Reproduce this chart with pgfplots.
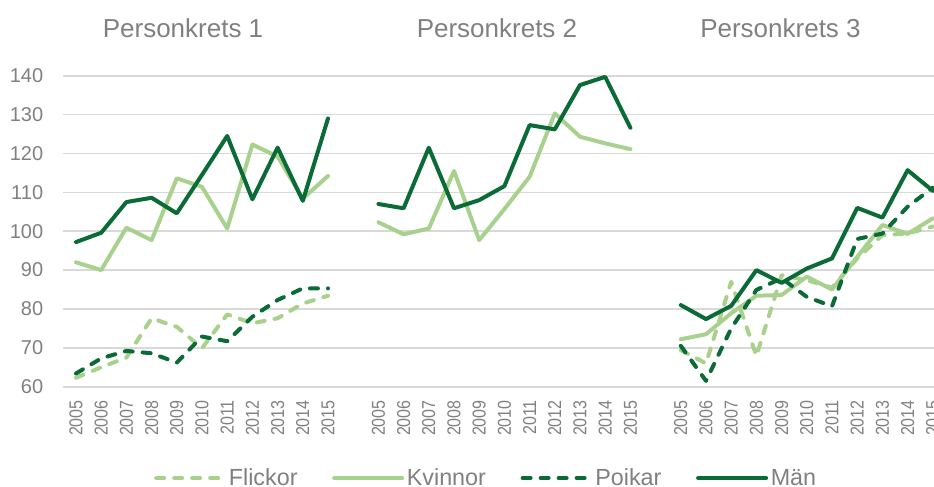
\documentclass[border=0pt]{standalone}
\usepackage{pgfplots}
\usepackage{pgfplotstable}
\pgfplotsset{compat=1.18}
\usepackage{fontspec}
\setmainfont{Liberation Sans}
\definecolor{txt}{HTML}{808080}
\definecolor{gridc}{HTML}{D9D9D9}
\definecolor{dk}{HTML}{0A6B37}
\definecolor{lt}{HTML}{A9D18E}

\pgfplotstableread{
x y
0 62.3
1 65
2 67.5
3 77.6
4 75.4
5 69.9
6 78.6
7 76.3
8 77.6
9 81.4
10 83.4
11 nan
24 69.4
25 66
26 87
27 67.9
28 88.7
29 87.4
30 85.5
31 93
32 99
33 99.4
34 101.2
}\flickor

\pgfplotstableread{
x y
0 92
1 90
2 100.9
3 97.7
4 113.6
5 111.4
6 100.7
7 122.3
8 119.2
9 108.4
10 114.2
11 nan
12 102.3
13 99.2
14 100.7
15 115.5
16 97.7
17 105.7
18 114
19 130.3
20 124.3
21 122.6
22 121.1
23 nan
24 72.2
25 73.5
26 78.9
27 83.4
28 83.6
29 88.3
30 85
31 93.4
32 101.6
33 99.3
34 103.3
}\kvinnor

\pgfplotstableread{
x y
0 63.4
1 67.3
2 69.2
3 68.6
4 66.2
5 72.9
6 71.7
7 78
8 82.3
9 85.3
10 85.3
11 nan
24 70.5
25 61.5
26 75
27 84.9
28 87.9
29 83.1
30 80.7
31 98
32 99.4
33 106.3
34 111.2
}\poikar

\pgfplotstableread{
x y
0 97.2
1 99.6
2 107.5
3 108.6
4 104.6
5 114.5
6 124.5
7 108.2
8 121.5
9 107.8
10 129
11 nan
12 107
13 105.9
14 121.5
15 105.9
16 108
17 111.6
18 127.3
19 126.2
20 137.6
21 139.7
22 126.6
23 nan
24 81
25 77.4
26 80.8
27 90
28 86.7
29 90.4
30 93
31 106
32 103.5
33 115.7
34 110.4
}\maen

\begin{document}
\begin{tikzpicture}
\begin{axis}[
  at={(0pt,0pt)}, anchor=south west,
  scale only axis, width=661.5pt, height=233.25pt,
  xmin=-0.5, xmax=34.5, ymin=60, ymax=140,
  clip=false,
  unbounded coords=jump,
  ytick={60,70,80,90,100,110,120,130,140},
  xtick={0,1,2,3,4,5,6,7,8,9,10,12,13,14,15,16,17,18,19,20,21,22,24,25,26,27,28,29,30,31,32,33,34},
  xticklabels={2005,2006,2007,2008,2009,2010,2011,2012,2013,2014,2015,
               2005,2006,2007,2008,2009,2010,2011,2012,2013,2014,2015,
               2005,2006,2007,2008,2009,2010,2011,2012,2013,2014,2015},
  ymajorgrids,
  grid style={gridc, line width=1.2pt},
  axis line style={draw=none},
  major tick length=0pt,
  /pgf/number format/assume math mode=true,
  tick label style={text=txt},
  yticklabel style={font=\fontsize{15}{18}\selectfont, inner sep=0pt, anchor=east},
  yticklabel shift=15pt,
  xticklabel style={font=\fontsize{14}{16}\selectfont, inner sep=0pt, rotate=90, anchor=east, xscale=0.86},
  xticklabel shift=10pt,
  legend columns=4,
  legend style={at={(0.4797,-0.2936)}, anchor=center, draw=none, fill=none,
    font=\fontsize{17.5}{20}\selectfont, text=txt, inner sep=0pt,
    nodes={inner sep=2pt},
    /tikz/every even column/.append style={column sep=24pt}},
  legend cell align=left,
  legend image code/.code={\draw[#1] (0pt,0pt) -- (51pt,0pt);},
  every axis plot/.append style={line width=3pt, line join=round, line cap=round},
]
\addplot[lt, dash pattern=on 6pt off 7.5pt] table {\flickor};
\addlegendentry{Flickor}
\addplot[lt] table {\kvinnor};
\addlegendentry{Kvinnor}
\addplot[dk, dash pattern=on 6pt off 7.5pt] table {\poikar};
\addlegendentry{Poikar}
\addplot[dk] table {\maen};
\addlegendentry{Män}

\node[anchor=base, font=\fontsize{19.5}{22}\selectfont, text=txt] at (axis description cs:0.1356,1.1244) {Personkrets 1};
\node[anchor=base, font=\fontsize{19.5}{22}\selectfont, text=txt] at (axis description cs:0.4916,1.1244) {Personkrets 2};
\node[anchor=base, font=\fontsize{19.5}{22}\selectfont, text=txt] at (axis description cs:0.8130,1.1244) {Personkrets 3};
\end{axis}
\pgfresetboundingbox
\path[use as bounding box] (-47.55pt,-74.475pt) rectangle (652.95pt,290.025pt);
\end{tikzpicture}
\end{document}
